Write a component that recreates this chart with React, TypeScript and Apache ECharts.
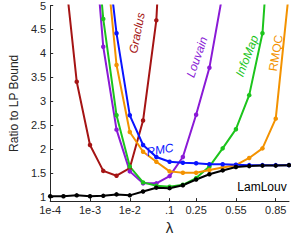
import React, { useEffect, useRef } from "react";
import * as echarts from "echarts";

const lambdaLabels = ["1e-4", "2.5e-4", "5e-4", "1e-3", "2.5e-3", "5e-3", "1e-2", "2.5e-2", "5e-2", ".1", ".15", "0.25", "0.35", "0.45", "0.55", "0.65", "0.75", "0.85", "0.95"];
const shownTickIndices = [0, 3, 6, 9, 11, 14, 17];
const yTicks = [1, 1.5, 2, 2.5, 3, 3.5, 4, 4.5, 5];

const graclus = [null, 6.0, 3.41, 2.09, 1.55, 1.45, 1.61, 2.6, 4.69, 10, null, null, null, null, null, null, null, null, null];
const louvain = [null, null, null, 7.5, 4.14, 2.41, 1.54, 1.29, 1.29, 1.44, 1.84, 2.72, 3.7, 5.25, null, null, null, null, null];
const infoMap = [null, null, null, 7.8, 4.72, 2.71, 1.64, 1.31, 1.24, 1.22, 1.26, 1.4, 1.64, 2.02, 2.42, 3.13, 4.42, 8.4, null];
const rmqc = [null, null, null, null, 6.6, 3.76, 2.36, 1.95, 1.74, 1.54, 1.51, 1.51, 1.57, 1.62, 1.67, 1.82, 2.02, 2.64, 5.3];
const rmc = [null, null, null, null, 6.8, 4.42, 2.71, 2.09, 1.84, 1.74, 1.72, 1.71, 1.69, 1.69, 1.68, 1.67, 1.67, 1.67, 1.67];
const lamLouv = [1.02, 1.02, 1.04, 1.02, 1.03, 1.06, 1.04, 1.12, 1.2, 1.19, 1.25, 1.37, 1.48, 1.56, 1.63, 1.65, 1.66, 1.66, 1.67];

const seriesDefs = [
  { name: "Graclus", data: graclus, color: "#a51414" },
  { name: "Louvain", data: louvain, color: "#8a1ad6" },
  { name: "InfoMap", data: infoMap, color: "#1cc41c" },
  { name: "RMQC", data: rmqc, color: "#f39200" },
  { name: "RMC", data: rmc, color: "#0a14ff" },
  { name: "LamLouv", data: lamLouv, color: "#000000" },
];

const FONT = "'Liberation Sans', Arial, sans-serif";
const AX = "#262626";

export default function App() {
  const ref = useRef<HTMLDivElement>(null);
  useEffect(() => {
    if (!ref.current) return;
    const chart = echarts.init(ref.current, undefined, { renderer: "svg" });
    const txt = (text: string, x: number, y: number, rot: number, color: string, italic: boolean) => ({
      type: "text",
      x,
      y,
      rotation: rot,
      style: {
        text,
        fill: color,
        font: `${italic ? "italic " : ""}12px ${FONT}`,
        align: "center",
        verticalAlign: "middle",
      },
      z: 100,
    });
    chart.setOption({
      animation: false,
      backgroundColor: "#ffffff",
      grid: { left: 36, top: 4.5, right: 2, bottom: 32.5, containLabel: false },
      xAxis: {
        type: "category",
        data: lambdaLabels,
        boundaryGap: false,
        name: "λ",
        nameLocation: "middle",
        nameGap: 14,
        nameTextStyle: { fontSize: 15, color: AX, fontFamily: FONT },
        axisLine: { lineStyle: { color: AX, width: 1 } },
        axisTick: {
          inside: true,
          length: 3,
          lineStyle: { color: AX },
          interval: (i: number) => shownTickIndices.includes(i),
        },
        axisLabel: {
          color: AX,
          fontSize: 11,
          fontFamily: FONT,
          margin: 3,
          interval: (i: number) => shownTickIndices.includes(i),
        },
        splitLine: { show: false },
      },
      yAxis: {
        type: "value",
        min: 0.92,
        max: 5,
        name: "Ratio to LP Bound",
        nameLocation: "middle",
        nameGap: 22,
        nameTextStyle: { fontSize: 12, color: AX, fontFamily: FONT },
        axisLine: { show: true, lineStyle: { color: AX, width: 1 } },
        axisTick: { show: true, inside: true, length: 3, lineStyle: { color: AX }, customValues: yTicks },
        axisLabel: { color: AX, fontSize: 11, fontFamily: FONT, margin: 4, customValues: yTicks },
        splitLine: { show: false },
      },
      series: seriesDefs.map((s) => ({
        type: "line",
        name: s.name,
        data: s.data,
        clip: true,
        symbol: "circle",
        symbolSize: 4.5,
        showSymbol: true,
        lineStyle: { color: s.color, width: 2 },
        itemStyle: { color: s.color },
        connectNulls: false,
      })),
      graphic: [
        txt("Graclus", 137, 33, 1.38, "#a51414", true),
        txt("Louvain", 197, 57, 1.24, "#8a1ad6", true),
        txt("InfoMap", 247, 56, 1.2, "#1cc41c", true),
        txt("RMQC", 276, 53, 1.4, "#f39200", false),
        txt("RMC", 160, 150, 0.17, "#0a14ff", true),
        txt("LamLouv", 262, 187, 0, "#000000", false),
      ],
    });
    return () => chart.dispose();
  }, []);
  return (
    <div
      ref={ref}
      style={{ position: "fixed", left: 0, top: 0, width: 291, height: 240, background: "#fff" }}
    />
  );
}
